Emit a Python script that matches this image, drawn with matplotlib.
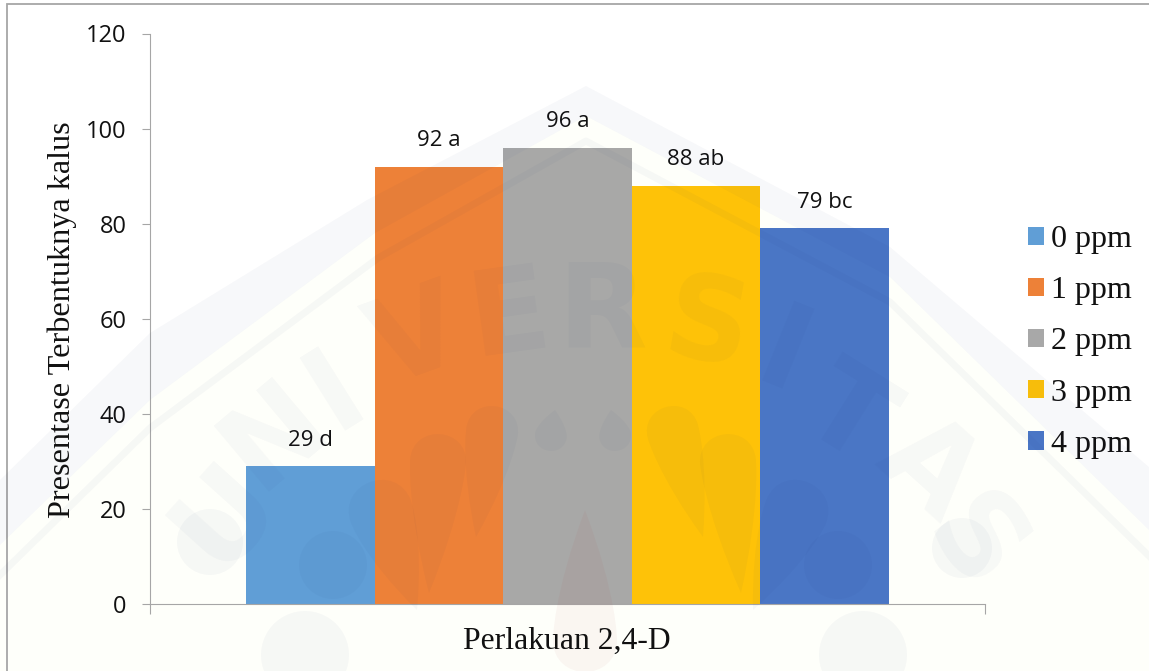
import numpy as np
import matplotlib
matplotlib.use("Agg")
import matplotlib.pyplot as plt
from matplotlib.patches import Rectangle, Polygon, Ellipse, PathPatch
from matplotlib.path import Path

doses = ['0 ppm', '1 ppm', '2 ppm', '3 ppm', '4 ppm']
values = [29, 92, 96, 88, 79]
labels = ['29 d', '92 a', '96 a', '88 ab', '79 bc']
colors = ['#5B9BD5', '#ED7D31', '#A5A5A5', '#FFC000', '#4472C4']
y_ticks = [0, 20, 40, 60, 80, 100, 120]

W, H = 1149, 671
serif = 'Liberation Serif'
sans = 'Open Sans'
wm_color = '#1A2A6A'
wm_alpha = 0.032


def px(x, y):
    return (x / W, 1 - y / H)


def add_drop(tx, ty, hx, hy, r, color=wm_color, alpha=wm_alpha):
    # teardrop with its tip at (tx, ty) and a round head at (hx, hy)
    d = np.array([hx - tx, hy - ty], dtype=float)
    d = d / np.hypot(*d)
    n = np.array([-d[1], d[0]])
    h = np.array([hx, hy], dtype=float)
    t = np.array([tx, ty], dtype=float)
    k = 1.33 * r
    pts = [t, h + n * r - (h - t) * 0.35, h + n * r, h + n * r,
           h + n * r + d * k, h - n * r + d * k, h - n * r,
           h - n * r, h - n * r - (h - t) * 0.35, t]
    codes = [Path.MOVETO, Path.CURVE4, Path.CURVE4, Path.CURVE4,
             Path.CURVE4, Path.CURVE4, Path.CURVE4,
             Path.CURVE4, Path.CURVE4, Path.CURVE4]
    fig.add_artist(PathPatch(Path([px(*p) for p in pts], codes), transform=fig.transFigure,
                             facecolor=color, edgecolor='none', alpha=alpha, zorder=3))


fig = plt.figure(figsize=(W / 100, H / 100), dpi=100, facecolor='white')
ax = fig.add_axes([150 / W, 1 - 604 / H, 835 / W, 570.5 / H], zorder=1)
ax.patch.set_alpha(0)

# Bars
bar_w = 0.154
x = 0.5 + (np.arange(len(values)) - 2) * bar_w
for xi, v, lab, c, d in zip(x, values, labels, colors, doses):
    ax.bar(xi, v, width=bar_w, color=c, label=d, alpha=0.97)
    ax.annotate(lab, (xi, v), xytext=(0, 18.5), textcoords='offset points',
                ha='center', va='center', fontsize=16, family=sans, color='#111111')

# Axes formatting
ax.set_xlim(0, 1)
ax.set_ylim(0, 120)
ax.set_yticks(y_ticks)
ax.set_xticks([0, 1])
ax.set_xticklabels([])
ax.spines['top'].set_visible(False)
ax.spines['right'].set_visible(False)
ax.spines['left'].set_color('#A6A6A6')
ax.spines['bottom'].set_color('#A6A6A6')
ax.tick_params(axis='y', direction='out', length=6, color='#A6A6A6', pad=11)
ax.tick_params(axis='x', direction='out', length=7, color='#A6A6A6')
for t in ax.get_yticklabels():
    t.set_fontsize(17)
    t.set_family(sans)
    t.set_color('#111111')

fig.text(62 / W, 1 - 320 / H, 'Presentase Terbentuknya kalus', rotation=90, ha='center', va='center',
         fontsize=23.2, family=serif, color='#111111')
fig.text(567 / W, 1 - 641 / H, 'Perlakuan 2,4-D', ha='center', va='center',
         fontsize=22.8, family=serif, color='#111111')

# Legend
ax.legend(loc='center left', bbox_to_anchor=(1028 / W, 1 - 342 / H), bbox_transform=fig.transFigure,
          frameon=False, prop={'family': serif, 'size': 23}, handlelength=0.5, handleheight=0.5,
          handletextpad=0.22, labelspacing=0.695, borderpad=0, borderaxespad=0, labelcolor='#111111')

# Outer chart border
fig.add_artist(Rectangle((7 / W, -0.05), 1.2, 1.05 - 4 / H, transform=fig.transFigure,
                         fill=False, edgecolor='#A6A6A6', linewidth=1.3, zorder=2))

# Watermark: arch, lettering and drops
outer = [(0, 480), (150, 333), (367, 200), (586, 86), (890, 247), (1149, 467)]
inner = [(0, 545), (150, 400), (375, 233), (586, 116), (890, 277), (1149, 530)]
thin = [(0, 575), (150, 428), (378, 258), (586, 141), (890, 302), (1149, 556)]

fig.add_artist(Polygon([px(*p) for p in inner + [(1149, 671), (0, 671)]], transform=fig.transFigure,
                       facecolor='#FEFFFA', edgecolor='none', zorder=-1))
fig.add_artist(Polygon([px(*p) for p in outer + inner[::-1]], transform=fig.transFigure,
                       facecolor=wm_color, edgecolor='none', alpha=wm_alpha, zorder=3))
fig.add_artist(plt.Line2D(*zip(*[px(*p) for p in thin]), transform=fig.transFigure,
                          color=wm_color, alpha=wm_alpha, linewidth=5, zorder=3))

letters = ['U', 'N', 'I', 'V', 'E', 'R', 'S', 'I', 'T', 'A', 'S']
letter_x = [225, 275, 335, 417, 509, 602, 707, 783, 846, 927, 973]
letter_y = [516, 436, 392, 341, 318, 315, 328, 358, 418, 470, 546]
letter_rot = [48, 40, 32, 20, 8, 0, -10, -22, -32, -42, -52]
for ch, lx, ly, rot in zip(letters, letter_x, letter_y, letter_rot):
    fig.text(lx / W, 1 - ly / H, ch, fontsize=84, family='DejaVu Sans', weight='bold', rotation=rot,
             ha='center', va='center', color=wm_color, alpha=wm_alpha, zorder=3)

add_drop(476, 537, 492, 432, 26)
add_drop(429, 593, 438, 462, 28)
add_drop(703, 537, 673, 432, 26)
add_drop(741, 593, 728, 462, 28)
add_drop(555, 410, 551, 435, 16)
add_drop(611, 410, 615, 435, 16)
add_drop(417, 610, 381, 512, 32)
add_drop(753, 610, 796, 512, 32)
add_drop(585, 510, 585, 640, 32, color='#B03030', alpha=0.045)
for cx, cy, r in [(333, 565, 34), (838, 565, 34), (305, 655, 44), (863, 655, 44), (210, 542, 33), (962, 548, 30)]:
    fig.add_artist(Ellipse(px(cx, cy), 2 * r / W, 2 * r / H, transform=fig.transFigure,
                           facecolor=wm_color, edgecolor='none', alpha=wm_alpha, zorder=3))

fig.savefig('out.png', dpi=100, facecolor=fig.get_facecolor())
